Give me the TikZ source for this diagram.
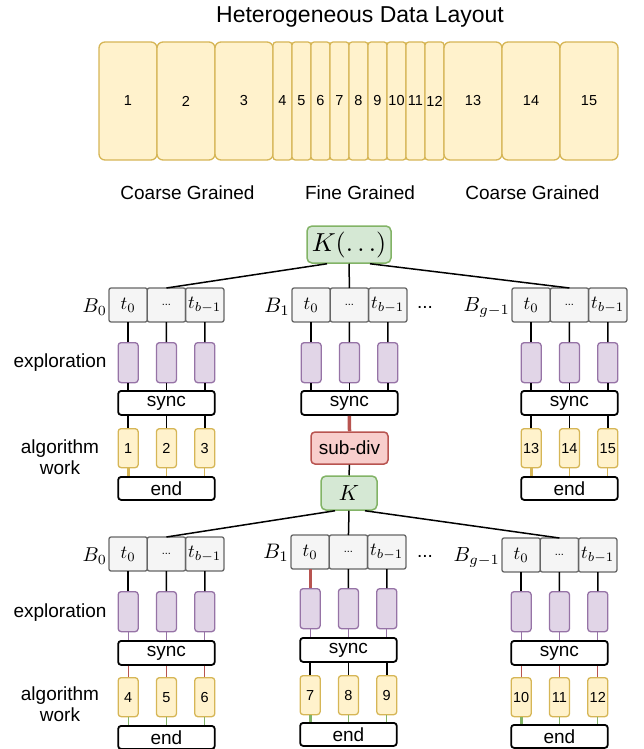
\documentclass[tikz,border=0pt]{standalone}
\usepackage{graphicx}
\usepackage{fontspec}
\setmainfont{Liberation Sans}
\usetikzlibrary{calc}

\definecolor{yfill}{HTML}{FFF2CC}
\definecolor{ydraw}{HTML}{D6B656}
\definecolor{pfill}{HTML}{E1D5E7}
\definecolor{pdraw}{HTML}{9673A6}
\definecolor{gfill}{HTML}{D5E8D4}
\definecolor{gdraw}{HTML}{82B366}
\definecolor{rfill}{HTML}{F8CECC}
\definecolor{rdraw}{HTML}{B85450}
\definecolor{cfill}{HTML}{F5F5F5}
\definecolor{cdraw}{HTML}{666666}

\newcommand\fsz[1]{\fontsize{#1}{#1}\selectfont}
% math set at 10pt and scaled up to the wanted size
\newcommand\mth[2]{\scalebox{#1}{$#2$}}

\tikzset{
  chunk/.style={draw=ydraw, fill=yfill, line width=1.3pt, minimum height=118pt,
    inner sep=0pt, font=\fsz{14.5}},
  coarse/.style={chunk, minimum width=58pt, rounded corners=6pt},
  fine/.style={chunk, minimum width=19pt, rounded corners=3pt},
  cell/.style={draw=cdraw, fill=cfill, line width=1.3pt, rounded corners=2pt,
    minimum width=38.3pt, minimum height=34pt, inner sep=0pt, outer sep=0pt,
    font=\fsz{10}},
  explore/.style={draw=pdraw, fill=pfill, line width=1.3pt, rounded corners=3pt,
    minimum width=20pt, minimum height=40pt, inner sep=0pt},
  work/.style={draw=ydraw, fill=yfill, line width=1.3pt, rounded corners=3pt,
    minimum width=20pt, minimum height=39pt, inner sep=0pt, font=\fsz{14.5}},
  bar/.style={draw=black, fill=white, line width=1.8pt, rounded corners=3pt,
    minimum width=96.6pt, inner sep=0pt, font=\fsz{19}},
  kbox/.style={draw=gdraw, fill=gfill, line width=1.5pt, rounded corners=5pt,
    inner sep=0pt, font=\fsz{10}},
  subdiv/.style={draw=rdraw, fill=rfill, line width=1.5pt, rounded corners=4pt,
    minimum width=77pt, minimum height=32pt, inner sep=0pt, font=\fsz{19}},
  wire/.style={draw=black, line width=1.5pt},
  thin/.style={line width=1.1pt},
  thick/.style={line width=3pt},
  lbl/.style={font=\fsz{19}, inner sep=0pt},
  blbl/.style={font=\fsz{10}, inner sep=0pt, anchor=east},
}

% cells, exploration boxes and sync bar of one thread block
\newcommand\threadtop[5]{%
  \pgfmathsetmacro\gxa{#2+19.15}%
  \pgfmathsetmacro\gxb{#2+57.45}%
  \pgfmathsetmacro\gxc{#2+95.75}%
  \node[cell, anchor=north west] (#1c0) at (#2,#3) {\mth{1.85}{t_0}};
  \node[cell, anchor=north west] (#1c1) at (#1c0.north east) {\fsz{11}...};
  \node[cell, anchor=north west] (#1c2) at (#1c1.north east) {\mth{1.85}{t_{b-1}}};
  \node[explore, anchor=north] (#1p0) at (\gxa,#4) {};
  \node[explore, anchor=north] (#1p1) at (\gxb,#4) {};
  \node[explore, anchor=north] (#1p2) at (\gxc,#4) {};
  \node[bar, minimum height=24pt, anchor=north] (#1s) at (\gxb,#5) {sync};
}

% algorithm work boxes and end bar of one thread block
\newcommand\threadwork[5]{%
  \pgfmathsetmacro\gxa{#2+19.15}%
  \pgfmathsetmacro\gxb{#2+57.45}%
  \pgfmathsetmacro\gxc{#2+95.75}%
  \pgfmathtruncatemacro\gna{#5}%
  \pgfmathtruncatemacro\gnb{#5+1}%
  \pgfmathtruncatemacro\gnc{#5+2}%
  \node[work, anchor=north] (#1w0) at (\gxa,#3) {\gna};
  \node[work, anchor=north] (#1w1) at (\gxb,#3) {\gnb};
  \node[work, anchor=north] (#1w2) at (\gxc,#3) {\gnc};
  \node[bar, minimum height=23pt, anchor=north] (#1e) at (\gxb,#4) {end};
}

\begin{document}
\begin{tikzpicture}[x=1pt, y=-1pt]
\useasboundingbox (0,0) rectangle (644,749);

% data layout
\node[font=\fsz{23}] (title) at (360,17) {Heterogeneous Data Layout};
\foreach \i in {1,2,3}
  \node[coarse] (d\i) at ({99+58*(\i-1)+29},101) {\i};
\foreach \i in {4,...,12}
  \node[fine] (d\i) at ({273+19*(\i-4)+9.5},101) {\i};
\foreach \i in {13,14,15}
  \node[coarse] (d\i) at ({444+58*(\i-13)+29},101) {\i};
\node[lbl] (coarseL) at (187.5,193) {Coarse Grained};
\node[lbl] (fineL) at (360,193) {Fine Grained};
\node[lbl] (coarseR) at (532.5,193) {Coarse Grained};

% upper launch
\node[kbox, minimum width=84pt, minimum height=37pt] (Ktop) at (349,244.5) {\mth{2.6}{K(\dots)}};

\threadtop{A}{109}{288}{342}{390}
\threadwork{A}{109}{428}{476}{1}
\threadtop{B}{292}{288}{342}{390}
\threadtop{C}{512}{288}{342}{390}
\threadwork{C}{512}{428}{476}{13}

\node[blbl] (bA) at (107,307) {\mth{2}{B_0}};
\node[blbl] (bB) at (290,307) {\mth{2.1}{B_1}};
\node[blbl] (bC) at (510,307) {\mth{2.05}{B_{g-1}}};
\node[lbl] (gapU) at (425,307) {...};

\node[lbl] (explU) at (60,363) {exploration};
\node[lbl, align=center, font=\fontsize{19}{21}\selectfont] (workU) at (60,457) {algorithm\\work};

\draw[wire] ($(Ktop.south)+(-22,0)$) -- (Ac1.north);
\draw[wire] (Ktop.south) -- (Bc1.north);
\draw[wire] ($(Ktop.south)+(21,0)$) -- (Cc1.north);

\foreach \g in {A,B,C} \foreach \k in {0,1,2} {
  \draw[wire] (\g c\k) -- (\g p\k);
  \draw[wire] (\g p\k.south) -- (\g p\k.south |- \g s.north);
}
\foreach \g in {A,C} {
  \foreach \k in {0,1,2}
    \draw[wire] (\g w\k.north |- \g s.south) -- (\g w\k.north);
  \draw[ydraw, thick] (\g w0.south) -- (\g w0.south |- \g e.north);
  \foreach \k in {1,2}
    \draw[ydraw, thin] (\g w\k.south) -- (\g w\k.south |- \g e.north);
}

% subdivision of the fine grained block
\node[subdiv] (sd) at (349.5,448) {sub-div};
\node[kbox, minimum width=56pt, minimum height=34pt] (Kmid) at (349,493) {\mth{2.2}{K}};
\draw[rdraw, line width=3.5pt] (Bs.south) -- (sd.north);
\draw[wire] (sd.south) -- (Kmid.north);

% lower launch
\threadtop{D}{109}{537}{591}{640}
\threadwork{D}{109}{677}{725}{4}
\threadtop{E}{291}{535}{588}{637}
\threadwork{E}{291}{675}{722}{7}
\threadtop{F}{502}{538}{591}{640}
\threadwork{F}{502}{677}{724}{10}

\node[blbl] (bD) at (107,556) {\mth{2}{B_0}};
\node[blbl] (bE) at (289,553) {\mth{2.1}{B_1}};
\node[blbl] (bF) at (500,557) {\mth{2.05}{B_{g-1}}};
\node[lbl] (gapL) at (425,556) {...};

\node[lbl] (explL) at (60,613) {exploration};
\node[lbl, align=center, font=\fontsize{19}{21}\selectfont] (workL) at (60,704.5) {algorithm\\work};

\draw[wire] ($(Kmid.south)+(-14,0)$) -- (Dc1.north);
\draw[wire] (Kmid.south) -- (Ec1.north);
\draw[wire] ($(Kmid.south)+(16,0)$) -- (Fc1.north);

\foreach \g in {D,E,F} \foreach \k in {0,1,2} {
  \draw[wire] (\g c\k) -- (\g p\k);
  \draw[pdraw, thin] (\g p\k.south) -- (\g p\k.south |- \g s.north);
}
\draw[rdraw, line width=3.3pt] (Ec0) -- (Ep0);
\foreach \k in {0,1,2} {
  \draw[rdraw, thin] (Dw\k.north |- Ds.south) -- (Dw\k.north);
  \draw[wire] (Ew\k.north |- Es.south) -- (Ew\k.north);
  \draw[rdraw, thin] (Fw\k.north |- Fs.south) -- (Fw\k.north);
  \draw[gdraw, thin] (Dw\k.south) -- (Dw\k.south |- De.north);
}
\foreach \g in {E,F} {
  \draw[gdraw, thick] (\g w0.south) -- (\g w0.south |- \g e.north);
  \foreach \k in {1,2}
    \draw[gdraw, thin] (\g w\k.south) -- (\g w\k.south |- \g e.north);
}
\end{tikzpicture}
\end{document}
